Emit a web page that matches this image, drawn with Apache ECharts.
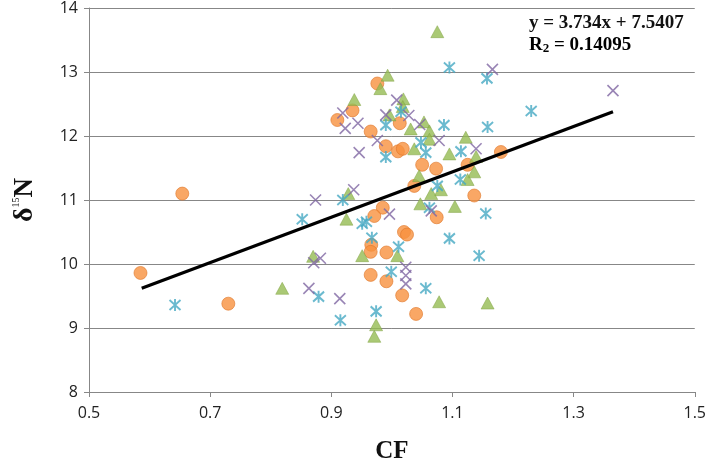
<!DOCTYPE html>
<html><head><meta charset="utf-8">
<script src="https://cdn.jsdelivr.net/npm/echarts@6/dist/echarts.min.js"></script>
<style>html,body{margin:0;padding:0;background:#fff}#c{width:709px;height:469px}</style>
</head><body><div id="c"></div>
<script>
// x-axis ticks and y-axis ticks
const xTicks = [0.5, 0.7, 0.9, 1.1, 1.3, 1.5];
const yTicks = [8, 9, 10, 11, 12, 13, 14];

// Orange circles
const orangeX = [0.585,0.654,0.730,0.910,0.935,0.976,0.965,0.990,1.013,1.010,1.018,1.050,1.073,1.125,1.180,1.037,1.136,0.985,0.971,1.074,1.020,1.025,0.966,0.965,0.991,0.965,0.991,1.017,1.040];
const orangeY = [9.86,11.10,9.38,12.25,12.40,12.82,12.07,11.84,12.20,11.76,11.80,11.55,11.49,11.55,11.75,11.22,11.07,10.88,10.75,10.73,10.50,10.46,10.30,10.19,10.18,9.83,9.73,9.51,9.22];

// Green triangles
const greenX = [0.819,0.870,0.925,0.928,0.951,0.971,0.974,1.009,0.938,0.993,0.981,0.996,1.019,1.018,1.031,1.053,1.062,1.075,1.062,1.122,1.037,1.095,1.139,1.136,1.045,1.125,1.081,1.065,1.047,1.104,1.078,1.158];
const greenY = [9.62,10.12,10.70,11.10,10.13,8.87,9.05,10.13,12.57,12.95,12.74,12.33,12.58,12.46,12.11,12.22,12.08,13.63,11.95,11.98,11.80,11.72,11.68,11.44,11.38,11.32,11.16,11.10,10.94,10.90,9.41,9.39];

// Teal asterisks
const tealX = [0.642,0.852,0.879,0.915,0.919,0.951,0.958,0.967,0.974,0.999,1.011,0.990,0.990,1.015,1.048,1.056,1.086,1.158,1.095,1.157,1.230,1.114,1.075,1.113,1.062,1.155,1.095,1.144,1.056];
const tealY = [9.36,10.70,9.49,9.12,11.00,10.63,10.66,10.41,9.26,9.88,10.27,12.17,11.67,12.38,11.90,11.74,12.17,12.14,13.07,12.90,12.39,11.76,11.22,11.32,10.88,10.79,10.40,10.13,9.62];

// Purple crosses
const purpleX = [0.863,0.871,0.882,0.874,0.914,0.937,0.919,0.923,0.944,0.946,0.976,0.990,1.008,1.028,1.046,1.078,1.139,0.996,1.065,1.023,1.023,1.023,1.166,1.365];
const purpleY = [9.62,10.02,10.09,11.00,9.46,11.16,12.36,12.12,12.20,11.74,11.93,12.33,12.56,12.32,12.18,11.93,11.80,10.78,10.83,9.95,9.82,9.69,13.04,12.71];

// Trend line end points (as drawn)
const trendX = [0.587, 1.365];
const trendY = [9.62, 12.38];

const eqLine1 = 'y = 3.734x + 7.5407';
const eqR = 'R';
const eqSub = '2';
const eqRest = ' = 0.14095';

const zip = (a, b) => a.map((v, i) => [v, b[i]]);

const chart = echarts.init(document.getElementById('c'));
const serif = '"Liberation Serif","DejaVu Serif",serif';
const sans = '"Open Sans","Noto Sans",sans-serif';

chart.setOption({
  animation: false,
  backgroundColor: '#fff',
  grid: { left: 89, right: 13, top: 7, bottom: 68, containLabel: false },
  xAxis: {
    type: 'value', min: xTicks[0], max: xTicks[xTicks.length - 1], interval: 0.2,
    name: 'CF', nameLocation: 'middle', nameGap: 47,
    nameTextStyle: { fontFamily: serif, fontWeight: 'bold', fontSize: 25, color: '#111' },
    axisLine: { show: true, lineStyle: { color: '#878787', width: 1 } },
    axisTick: { show: true, length: 5, lineStyle: { color: '#878787' } },
    splitLine: { show: false },
    axisLabel: { fontFamily: sans, fontSize: 16, color: '#222', margin: 13,
      formatter: v => v.toFixed(1) }
  },
  yAxis: {
    type: 'value', min: yTicks[0], max: yTicks[yTicks.length - 1], interval: 1,
    name: '{d|δ}{s|15}{n|N}', nameLocation: 'middle', nameGap: 50, nameRotate: 90,
    nameTextStyle: { rich: {
      d: { fontFamily: serif, fontWeight: 'bold', fontSize: 28, color: '#111' },
      s: { fontFamily: serif, fontSize: 10, color: '#111', verticalAlign: 'top', padding: [0,0,14,0] },
      n: { fontFamily: serif, fontWeight: 'bold', fontSize: 27, color: '#111' }
    } },
    axisLine: { show: true, lineStyle: { color: '#878787', width: 1 } },
    axisTick: { show: true, length: 5, lineStyle: { color: '#878787' } },
    splitLine: { show: true, lineStyle: { color: '#878787', width: 1 } },
    axisLabel: { fontFamily: sans, fontSize: 16, color: '#222', margin: 11 }
  },
  series: [
    { type: 'scatter', data: zip(orangeX, orangeY), symbol: 'circle', symbolSize: 13,
      itemStyle: { color: '#F7913F', borderColor: '#E0782A', borderWidth: 0.8 }, z: 2 },
    { type: 'scatter', data: zip(greenX, greenY), symbol: 'triangle', symbolSize: [13, 12],
      itemStyle: { color: '#95BB52', borderColor: '#7EA040', borderWidth: 0.6 }, z: 3 },
    { type: 'scatter', data: zip(tealX, tealY), symbol: 'path://M0,1L10,11M0,11L10,1M5,0L5,12', symbolSize: [11, 12],
      itemStyle: { color: 'rgba(0,0,0,0)', borderColor: '#46A9C3', borderWidth: 2 }, z: 4 },
    { type: 'scatter', data: zip(purpleX, purpleY), symbol: 'path://M0,0L10,10M0,10L10,0', symbolSize: 11,
      itemStyle: { color: 'rgba(0,0,0,0)', borderColor: '#8066A3', borderWidth: 1.6 }, z: 5 },
    { type: 'line', data: zip(trendX, trendY), symbol: 'none', z: 10,
      lineStyle: { color: '#000', width: 3.2 } }
  ],
  graphic: [
    { type: 'text', left: 529, top: 14, z: 20, style: { text: eqLine1, fontFamily: serif, fontWeight: 'bold', fontSize: 19, fill: '#111' } },
    { type: 'text', left: 529, top: 36, z: 20, style: {
      text: '{r|' + eqR + '}{t|' + eqSub + '}{r|' + eqRest + '}',
      rich: { r: { fontFamily: serif, fontWeight: 'bold', fontSize: 19, color: '#111' },
              t: { fontFamily: serif, fontWeight: 'bold', fontSize: 13, color: '#111', padding: [6,0,0,0] } } } }
  ]
});
</script></body></html>
